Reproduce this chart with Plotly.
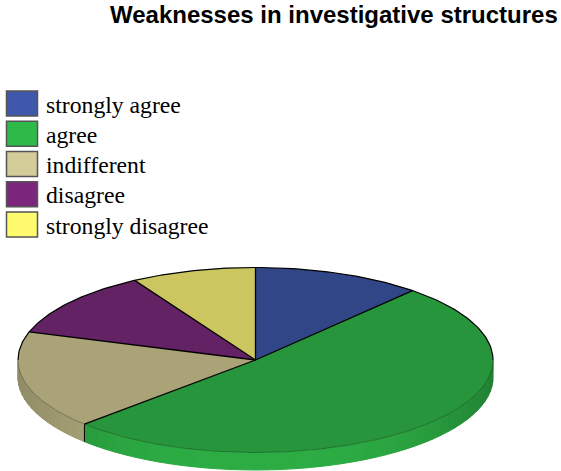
import numpy as np
import plotly.graph_objects as go

TITLE = "Weaknesses in investigative structures"
categories = ["strongly agree", "agree", "indifferent", "disagree", "strongly disagree"]
shares = [11.5, 51.3, 17.1, 11.6, 8.5]
top_colors = ["#314687", "#27953B", "#A9A377", "#622263", "#CBC65F"]
legend_colors = ["#3F58AB", "#2FB949", "#D3CD99", "#7B267C", "#FFFB6F"]

W, H = 561, 471
CX, CY, RX, RY, DEPTH = 255.5, 360.0, 237.5, 92.5, 17.5
depth = DEPTH / RY


def arc(a0, a1):
    t = np.radians(np.arange(a0, a1, 1.0).tolist() + [a1])
    return np.sin(t), np.cos(t)


def shade(hex_color, f):
    rgb = [int(hex_color[i:i + 2], 16) for i in (1, 3, 5)]
    return "rgb(" + ",".join(str(int(min(255, c * f))) for c in rgb) + ")"


edges = np.concatenate([[0], np.cumsum(shares)]) * 3.6
fig = go.Figure()


def add(x, y, **kw):
    fig.add_trace(go.Scatter(x=x, y=y, mode="lines", hoverinfo="skip", showlegend=False, **kw))


# Side wall, drawn in short bands for the shading
for i, name in enumerate(categories):
    lo, hi = max(edges[i], 90.0), min(edges[i + 1], 270.0)
    if hi <= lo:
        continue
    bands = np.arange(lo, hi, 3.0).tolist() + [hi]
    for a0, a1 in zip(bands[:-1], bands[1:]):
        mid = (a0 + a1) / 2
        f = 1.16 - 0.30 * abs(np.sin(np.radians(mid))) ** 3 if i == 1 else 1.04 - 0.18 * abs(np.sin(np.radians(mid))) ** 3
        x, y = arc(a0, a1)
        add(np.r_[x, x[::-1], x[0]], np.r_[y, y[::-1] - depth, y[0]],
            fill="toself", fillcolor=shade(top_colors[i], f),
            line=dict(width=1, color=shade(top_colors[i], f)))

# Front edge between the wall of two slices
for a in edges[1:-1]:
    if 90 < a < 270:
        s, c = np.sin(np.radians(a)), np.cos(np.radians(a))
        add([s, s], [c, c - depth], line=dict(color="#000000", width=1))

# Top face
for i, name in enumerate(categories):
    x, y = arc(edges[i], edges[i + 1])
    add(np.r_[0, x, 0], np.r_[0, y, 0], fill="toself", fillcolor=top_colors[i],
        line=dict(width=0), name=name)

# Rim and spokes
x, y = arc(90, 270)
add(x, y, line=dict(color="rgba(0,0,0,0.45)", width=0.6))
x, y = arc(270, 450)
add(x, y, line=dict(color="#000000", width=1.2))
for a in edges[:-1]:
    s, c = np.sin(np.radians(a)), np.cos(np.radians(a))
    add([0, s], [0, c], line=dict(color="#000000", width=1.3))

shapes = []
annotations = [dict(text="<b>" + TITLE + "</b>", x=560 / W, y=1 - 15 / H, xref="paper", yref="paper",
                    xanchor="right", yanchor="middle", showarrow=False,
                    font=dict(family="Liberation Sans", size=24, color="#000000"))]
for i, name in enumerate(categories):
    top = 91 + 30.25 * i
    shapes.append(dict(type="rect", xref="paper", yref="paper", x0=6.5 / W, x1=37.5 / W,
                       y0=1 - top / H, y1=1 - (top + 25) / H, fillcolor=legend_colors[i],
                       line=dict(color="#555555", width=1.5)))
    annotations.append(dict(text=name, x=43.5 / W, y=1 - (top + 13.5) / H, xref="paper", yref="paper",
                            xanchor="left", yanchor="middle", showarrow=False,
                            font=dict(family="Liberation Serif", size=23.7, color="#000000")))

fig.update_layout(
    width=W, height=H, margin=dict(l=0, r=0, t=0, b=0), autosize=False,
    paper_bgcolor="#ffffff", plot_bgcolor="#ffffff", showlegend=False,
    xaxis=dict(range=[-CX / RX, (W - CX) / RX], visible=False, fixedrange=True),
    yaxis=dict(range=[(CY - H) / RY, CY / RY], visible=False, fixedrange=True),
    shapes=shapes, annotations=annotations,
)
fig.write_html("out.html", config={"displayModeBar": False},
               post_script="document.body.style.margin='0';document.body.style.overflow='hidden';")
